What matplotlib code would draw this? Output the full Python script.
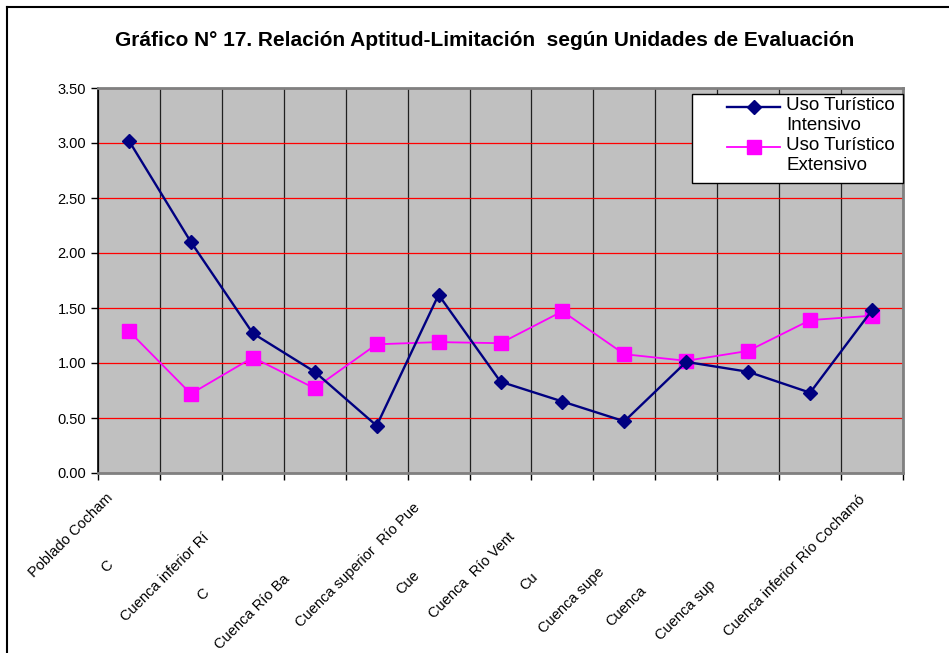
import matplotlib
matplotlib.use("Agg")
from matplotlib import pyplot as plt
from matplotlib.lines import Line2D
from matplotlib.patches import Rectangle
import numpy as np

plt.rcParams['font.family'] = ['Liberation Sans', 'DejaVu Sans']

# category labels as they appear (clipped) in the original chart
labels = ["Poblado Cocham", "C", "Cuenca inferior Rí", "C", "Cuenca Río Ba",
          "Cuenca superior  Río Pue", "Cue", "Cuenca  Río Vent", "Cu",
          "Cuenca supe", "Cuenca", "Cuenca sup", "Cuenca inferior Río Cochamó"]
intensivo = [3.02, 2.10, 1.27, 0.92, 0.43, 1.62, 0.83, 0.65, 0.47, 1.01, 0.92, 0.73, 1.48]
extensivo = [1.29, 0.72, 1.05, 0.77, 1.17, 1.19, 1.18, 1.47, 1.08, 1.02, 1.11, 1.39, 1.43]
series_names = ['Uso Turístico\nIntensivo', 'Uso Turístico\nExtensivo']

# label placement offsets (pixels) relative to category centre / axis bottom
lab_dx = [-18, -80, -46, -108, -89, -21, -83, -50, -89, -84, -104, -97, -9]
lab_dy = [23, 90, 62, 118, 104, 32, 100, 62, 102, 97, 115, 110, 24]

W, H = 949, 653
fig = plt.figure(figsize=(W/100, H/100), dpi=100)
ax = fig.add_axes([98/W, 180/H, 805/W, 385/H])
ax.set_facecolor('#C0C0C0')

styles = [dict(color='#000080', lw=1.7, marker='D', ms=7.5, zorder=4),
          dict(color='#FF00FF', lw=1.3, marker='s', ms=10, zorder=3)]

x = np.arange(len(labels))
for vals, st in zip([intensivo, extensivo], styles):
    ax.plot(x, vals, mfc=st['color'], mec=st['color'], **st)

ax.set_xlim(-0.5, len(labels) - 0.5)
ax.set_ylim(0, 3.5)
yt = np.arange(0, 3.51, 0.5)
ax.set_yticks(yt)
ax.set_yticklabels(['%.2f' % v for v in yt], fontsize=10.5)
ax.set_xticks(np.arange(-0.5, len(labels), 1))
ax.set_xticklabels([])
ax.tick_params(direction='out', length=5, width=1, color='black')

ax.yaxis.grid(True, color='#FF0000', lw=0.9)
ax.xaxis.grid(True, color='#202020', lw=0.9)
ax.set_axisbelow(True)

for s in ['top', 'right', 'bottom']:
    ax.spines[s].set_color('#808080')
    ax.spines[s].set_linewidth(2)
ax.spines['left'].set_color('black')
ax.spines['left'].set_linewidth(1.2)

for i, lab in enumerate(labels):
    ax.annotate(lab, xy=(i, 0), xycoords=('data', 'axes fraction'),
                xytext=(lab_dx[i], -lab_dy[i]), textcoords='offset pixels',
                rotation=45, rotation_mode='anchor', ha='right', va='center',
                fontsize=10.5, annotation_clip=False)

fig.text(485/W, 1 - 40/H,
         'Gráfico N° 17. Relación Aptitud-Limitación  según Unidades de Evaluación',
         ha='center', va='center', fontsize=15, fontweight='bold')

# legend box drawn by hand (Excel style: handle aligned with first text line)
fig.add_artist(Rectangle((692/W, 1 - 183/H), 211/W, 89/H, transform=fig.transFigure,
                         facecolor='white', edgecolor='black', lw=1, zorder=10))
for k, (name, st) in enumerate(zip(series_names, styles)):
    yc = 1 - (107 + 40*k)/H
    fig.add_artist(Line2D([727/W, 780/W], [yc, yc], color=st['color'], lw=st['lw'],
                          zorder=11))
    fig.add_artist(Line2D([753.5/W], [yc], color=st['color'], marker=st['marker'],
                          ms=st['ms'], mfc=st['color'], mec=st['color'], zorder=12))
    fig.text(786/W, 1 - (97 + 40*k)/H, name, ha='left', va='top', fontsize=13.5,
             linespacing=1.24, zorder=12)

fig.add_artist(Line2D([7/W, 1], [1 - 7/H, 1 - 7/H], color='black', lw=1.5))
fig.add_artist(Line2D([7/W, 7/W], [0, 1 - 7/H], color='black', lw=1.5))

fig.savefig('out.png', dpi=100)
